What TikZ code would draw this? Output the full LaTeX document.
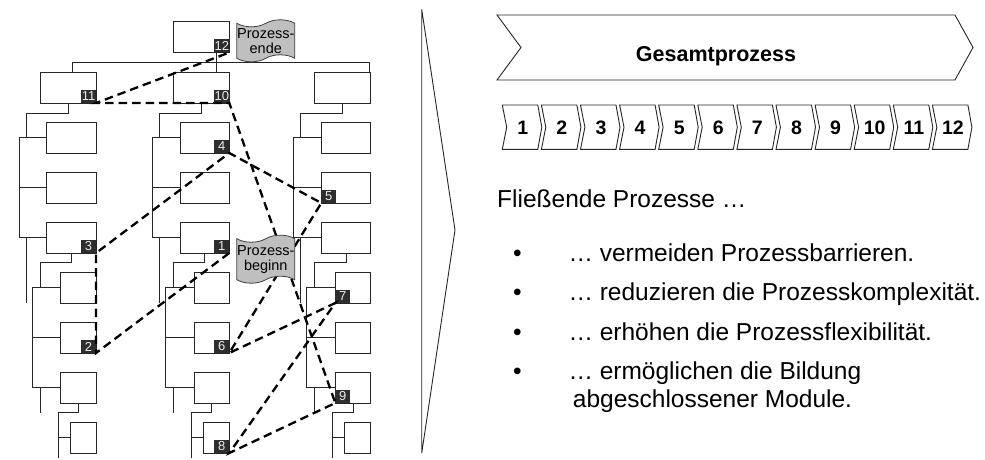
\documentclass[tikz,border=0pt]{standalone}
\usepackage{fontspec}
\setmainfont{Liberation Sans}
\usetikzlibrary{shapes.symbols}

% one column of the process tree: #1 = name prefix, #2 = x of the right box edge
\newcommand{\treecol}[2]{%
  \node[tbox, minimum width=56pt,   minimum height=31pt] (#1r1) at ({#2-28},87.5) {};
  \node[tbox, minimum width=49.3pt, minimum height=31pt] (#1r2) at ({#2-24.65},137.5) {};
  \node[tbox, minimum width=49.3pt, minimum height=31pt] (#1r3) at ({#2-24.65},187.5) {};
  \node[tbox, minimum width=49.3pt, minimum height=31pt] (#1r4) at ({#2-24.65},237.5) {};
  \node[tbox, minimum width=35.3pt, minimum height=31pt] (#1r5) at ({#2-17.65},287.5) {};
  \node[tbox, minimum width=35.3pt, minimum height=31pt] (#1r6) at ({#2-17.65},337.5) {};
  \node[tbox, minimum width=35.3pt, minimum height=31pt] (#1r7) at ({#2-17.65},387.5) {};
  \node[tbox, minimum width=26pt,   minimum height=31pt] (#1r8) at ({#2-13},437.5) {};
  \draw[tline] (#1r1.south) -- ++(0,10) -| ({#2-70},137.5);
  \draw[tline] (#1r2.west) -| ({#2-77},237.5) -- (#1r4.west);
  \draw[tline] ({#2-77},187.5) -- (#1r3.west);
  \draw[tline] ({#2-70},237.5) -- ({#2-70},303);
  \draw[tline] (#1r4.south) -- ++(0,9.5) -| ({#2-56},287.5);
  \draw[tline] (#1r5.west) -| ({#2-63.7},387.5) -- (#1r7.west);
  \draw[tline] ({#2-63.7},337.5) -- (#1r6.west);
  \draw[tline] ({#2-56},387.5) -- ({#2-56},412.5);
  \draw[tline] (#1r7.south) -- ++(0,9.5) -| ({#2-37.7},458);
  \draw[tline] ({#2-37.7},437.5) -- (#1r8.west);
}

\begin{document}
\begin{tikzpicture}[x=1pt,y=-1pt,
  tbox/.style={draw=black!85, line width=0.9pt, fill=white, inner sep=0pt, outer sep=0pt},
  tline/.style={draw=black!85, line width=0.9pt},
  lab/.style={fill=black!82, text=white!92!black, inner sep=0pt, outer sep=0pt,
    minimum width=15pt, minimum height=13pt, font=\fontsize{13}{13}\selectfont},
  flow/.style={line width=2.3pt, dash pattern=on 8.5pt off 5pt, black},
  flag/.style={tape, draw=black!75, line width=0.8pt, fill=black!25, inner sep=0pt,
    minimum width=58pt, align=center, font=\fontsize{14.5}{15}\selectfont,
    tape bend height=7pt},
  chev/.style={draw=black!85, line width=0.9pt, fill=white, line join=miter},
  txt/.style={anchor=base west, inner sep=0pt, font=\fontsize{24.5}{28}\selectfont},
]
\useasboundingbox (0,0) rectangle (985,460);

% ---------- process tree ----------
\node[tbox, minimum width=56pt, minimum height=31pt] (top) at (201.3,37) {};
\treecol{a}{96}
\treecol{b}{229.3}
\treecol{c}{370.6}
\draw[tline] ([xshift=4.5pt]ar1.north) -- ++(0,-10) -| ([xshift=-1.2pt]cr1.north east);
\draw[tline] ([xshift=15.4pt]top.south) -- ([xshift=15.4pt]br1.north);

% step numbers
\node[lab, anchor=south east] (l12) at (top.south east) {12};
\node[lab, anchor=south east] (l11) at (ar1.south east) {11};
\node[lab, anchor=south east] (l10) at (br1.south east) {10};
\node[lab, anchor=south east] (l4)  at (br2.south east) {4};
\node[lab, anchor=south west] (l5)  at (cr3.south west) {5};
\node[lab, anchor=south east] (l3)  at (ar4.south east) {3};
\node[lab, anchor=south east] (l1)  at (br4.south east) {1};
\node[lab, anchor=south west] (l7)  at (cr5.south west) {7};
\node[lab, anchor=south east] (l2)  at (ar6.south east) {2};
\node[lab, anchor=south east] (l6)  at (br6.south east) {6};
\node[lab, anchor=south west] (l9)  at (cr7.south west) {9};
\node[lab, anchor=south east] (l8)  at (br8.south east) {8};

% process flow through the steps
\draw[flow] (l1.south east) -- (l2.south east) -- (l3.south east) -- (l4.south east)
  -- (l5.south west) -- (l6.south east) -- (l7.south west) -- (l8.south east)
  -- (l9.south west) -- (l10.south east) -- (l11.south east) -- (l12.south east);

% start and end flags
\node[flag, minimum height=42pt] (pende) at (265.8,40.8) {Prozess-\\ende};
\node[flag, minimum height=48pt] (pbeg)  at (265.8,259.2) {Prozess-\\beginn};

% ---------- separator ----------
\draw[line width=0.9pt, black!85, line join=miter] (421.7,453.3) -- (421.7,9.3) -- (455,230) -- cycle;

% ---------- overall process ----------
\draw[chev] (497,15) -- (955,15) -- (973,47.5) -- (955,80) -- (497,80) -- (521,47.5) -- cycle;
\node[anchor=base, inner sep=0pt, font=\bfseries\fontsize{21.5}{24}\selectfont] (gesamt) at (716,61.5) {Gesamtprozess};

% ---------- single steps ----------
\foreach \i in {1,...,12}{
  \pgfmathsetmacro{\L}{502.3+39.1*(\i-1)}
  \draw[chev] (\L,105) -- ({\L+35.5},105) -- ({\L+39.5},127.2) -- ({\L+35.5},149.3)
    -- (\L,149.3) -- ({\L+4.4},127.2) -- cycle;
  \node[anchor=base, inner sep=0pt, font=\bfseries\fontsize{19.5}{22}\selectfont] (s\i) at ({\L+20.5},134.8) {\i};
}

% ---------- text ----------
\node[txt] (intro) at (497,207.7) {Fließende Prozesse …};
\node[txt] (d1) at (513,261.7) {•};
\node[txt] (t1) at (568.3,261.7) {… vermeiden Prozessbarrieren.};
\node[txt] (d2) at (513,300) {•};
\node[txt] (t2) at (568.3,300) {… reduzieren die Prozesskomplexität.};
\node[txt] (d3) at (513,340) {•};
\node[txt] (t3) at (568.3,340) {… erhöhen die Prozessflexibilität.};
\node[txt] (d4) at (513,379.3) {•};
\node[txt] (t4) at (568.3,379.3) {… ermöglichen die Bildung};
\node[txt] (t4b) at (572.7,407.7) {abgeschlossener Module.};
\end{tikzpicture}
\end{document}
